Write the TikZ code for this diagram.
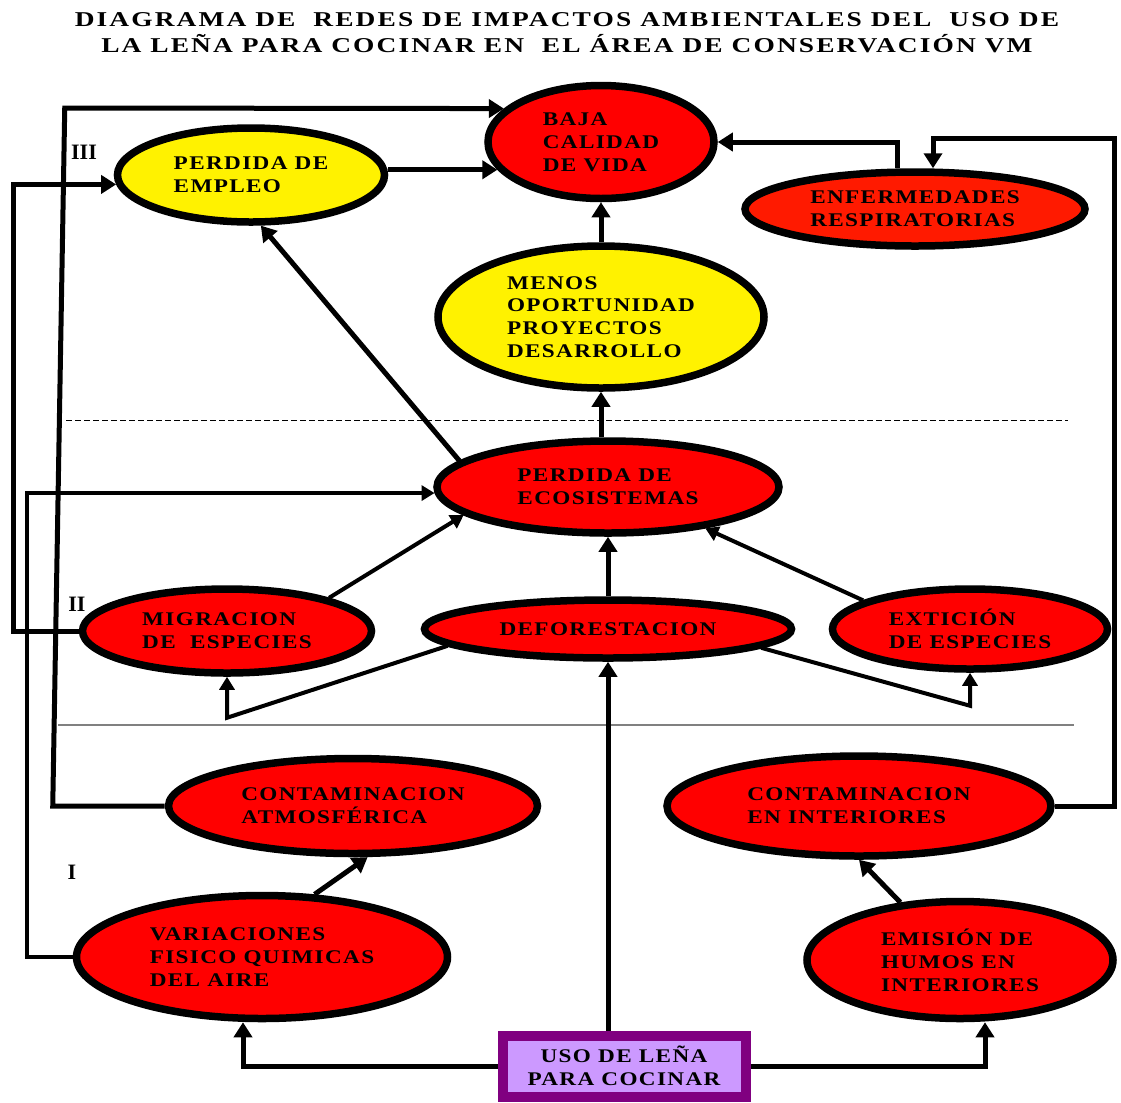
\documentclass[tikz,border=0pt]{standalone}
\usepackage{fontspec}
\setmainfont{Liberation Serif}
\newfontfamily\etiqueta[FakeStretch=1.2, LetterSpace=7]{Liberation Serif}
\newfontfamily\titulo[FakeStretch=1.3, LetterSpace=10]{Liberation Serif}
\usepackage{xcolor}
\usepackage{tikz}
\usetikzlibrary{shapes.geometric,arrows.meta}
\definecolor{rojoenf}{HTML}{FF1A00}
\definecolor{lila}{HTML}{CC99FF}
\definecolor{morado}{HTML}{800080}

\begin{document}
\begin{tikzpicture}[x=0.2mm, y=-0.2mm,
        evento/.style={ellipse, draw, line width=1.5mm, inner sep=0pt, align=left,
            font=\etiqueta\bfseries\fontsize{11}{13}\selectfont},
        nodorojo/.style={evento, fill=red},
        nodoamarillo/.style={evento, fill=yellow},
        caja/.style={rectangle, draw=morado, fill=lila, line width=2mm, align=center,
            font=\etiqueta\bfseries\fontsize{11}{13}\selectfont},
        nivel/.style={font=\bfseries\fontsize{12.5}{14}\selectfont},
        flecha/.style={line width=1mm, -{Triangle[length=3mm,width=3.6mm]}},
        flechafina/.style={line width=0.8mm, -{Triangle[length=2.6mm,width=3mm]}}]

            \useasboundingbox (0,0) rectangle (1121,1102);

            \node[font=\titulo\bfseries\fontsize{12}{14.7}\selectfont, align=center] (tit) at (567,33)
                {DIAGRAMA DE\ \ REDES DE IMPACTOS AMBIENTALES DEL\ \ USO DE\\
                 LA LEÑA PARA COCINAR EN\ \ EL ÁREA DE CONSERVACIÓN VM};

            \draw[dash pattern=on 1.2mm off 0.6mm, line width=0.2mm] (66,420) -- (1068,420);
            \draw[gray, line width=0.3mm] (58,725) -- (1074,725);

            \node[nivel] (n3) at (84,152) {III};
            \node[nivel] (n2) at (77,604) {II};
            \node[nivel] (n1) at (72,872) {I};

            \node[nodorojo, minimum width=45.2mm, minimum height=22.6mm] (baja) at (601,142) {BAJA\\CALIDAD\\DE VIDA};
            \node[nodoamarillo, minimum width=53.4mm, minimum height=18.8mm] (emp) at (251,175) {PERDIDA DE\\EMPLEO};
            \node[evento, fill=rojoenf, minimum width=68mm, minimum height=14.8mm] (enf) at (915,209) {ENFERMEDADES\\RESPIRATORIAS};
            \node[nodoamarillo, minimum width=65.2mm, minimum height=28.4mm] (meno) at (601,317) {MENOS\\OPORTUNIDAD\\PROYECTOS\\DESARROLLO};

            \node[nodorojo, minimum width=68.4mm, minimum height=18.4mm] (eco) at (608,487) {PERDIDA DE\\ECOSISTEMAS};
            \node[nodorojo, minimum width=57.8mm, minimum height=16.8mm] (migr) at (227,631) {MIGRACION\\DE\ \ ESPECIES};
            \node[nodorojo, minimum width=73.4mm, minimum height=11.6mm] (defo) at (608,629) {DEFORESTACION};
            \node[nodorojo, minimum width=55mm, minimum height=16mm] (exti) at (970,629) {EXTICIÓN\\DE ESPECIES};

            \node[nodorojo, minimum width=73.8mm, minimum height=19mm] (catm) at (353,806) {CONTAMINACION\\ATMOSFÉRICA};
            \node[nodorojo, minimum width=76.8mm, minimum height=20mm] (cint) at (859,806) {CONTAMINACION\\EN INTERIORES};
            \node[nodorojo, minimum width=74.2mm, minimum height=24.6mm] (varia) at (262,957) {VARIACIONES\\FISICO QUIMICAS\\DEL AIRE};
            \node[nodorojo, minimum width=61.2mm, minimum height=23.4mm] (emis) at (960,960) {EMISIÓN DE\\HUMOS EN\\INTERIORES};

            \node[caja, minimum width=48.6mm, minimum height=12.2mm] (uso) at (624,1066) {USO DE LEÑA\\PARA COCINAR};

            \draw[flecha] (uso.north -| defo.south) -- (defo.south);
            \draw[flecha] (uso.west) -| ([xshift=-3.8mm]varia.south);
            \draw[flecha] (uso.east) -| ([xshift=5mm]emis.south);
            \draw[flecha] (emis.136) -- (cint.south);
            \draw[flecha] (varia.50) -- (catm.286);

            \draw[flechafina] (varia.west) -- ++(-46,0) |- (eco.182);
            \draw[flecha] (catm.west) -- ++(-112,0) -- ++(12,-698) -- (baja.161);
            \draw[flecha] (cint.east) -- ++(60,0) -- ++(0,-668) -| ([xshift=3.6mm]enf.north);
            \draw[flecha] ([xshift=-3.6mm]enf.north) |- (baja.east);
            \draw[flecha] (migr.west) -- ++(-65,0) |- (emp.184);

            \draw[flecha] (emp.east |- baja.195) -- (baja.195);
            \draw[flecha] (meno) -- (baja);
            \draw[flecha] (eco.north -| meno.south) -- (meno.south);
            \draw[flecha] (eco.170) -- (emp.281);

            \draw[flecha] (defo) -- (eco);
            \draw[flechafina] (migr.18) -- (eco.191);
            \draw[flechafina] (exti.165) -- (eco.337);
            \draw[flechafina] (defo.186) -- ([yshift=-8.2mm]migr.south) -- (migr.south);
            \draw[flechafina] (defo.353) -- ([yshift=-6.6mm]exti.south) -- (exti.south);
        \end{tikzpicture}
\end{document}
